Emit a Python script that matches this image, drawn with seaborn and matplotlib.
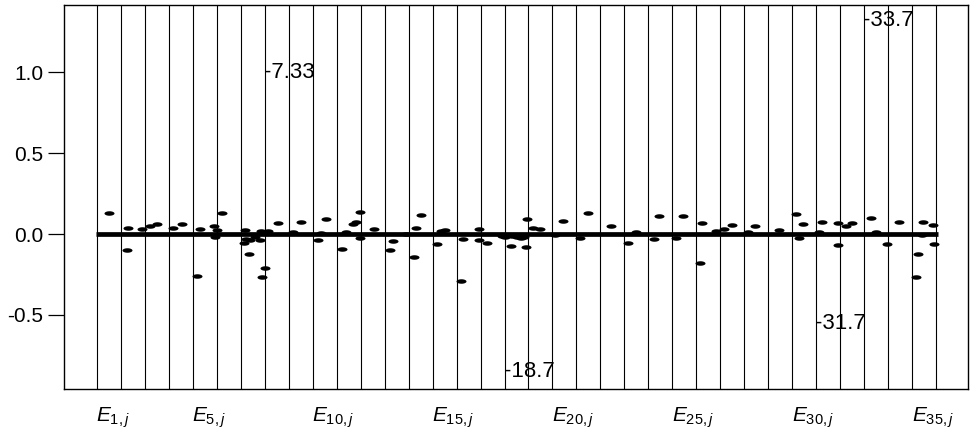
import numpy as np
import pandas as pd
import matplotlib
matplotlib.use("Agg")
import matplotlib.pyplot as plt
import matplotlib.transforms as mtransforms
from matplotlib.path import Path
import seaborn as sns

# ---------------- data ----------------
panels = list(range(1, 36))
label_panels = [1, 5, 10, 15, 20, 25, 30, 35]
tick_values = [-0.5, 0.0, 0.5, 1.0]
tick_labels = ["-0.5", "0.0", "0.5", "1.0"]

# individual elements: panel j, relative position inside the panel, value
pt_panel = [1,
            2, 2, 2,
            3, 3,
            4, 4,
            5, 5, 5, 5, 5,
            6,
            7, 7, 7, 7, 7, 7, 7, 7, 7,
            8, 8, 8,
            9, 9,
            10, 10, 10,
            11, 11, 11, 11, 11, 11,
            12,
            13, 13, 13,
            14, 14, 14,
            15, 15, 15,
            16, 16, 16, 16,
            17, 17,
            18, 18, 18, 18, 18, 18, 18, 18,
            19, 19,
            20, 20,
            21, 21,
            22,
            23, 23,
            24, 24,
            25, 25,
            26, 26, 26,
            27, 27,
            28, 28,
            29,
            30, 30, 30,
            31, 31, 31, 31,
            32, 32,
            33, 33, 33,
            34,
            35, 35, 35, 35, 35, 35]
pt_offset = [0.51,
             0.24, 0.30, 0.86,
             0.21, 0.51,
             0.18, 0.53,
             0.18, 0.29, 0.88, 0.99, 0.92,
             0.20,
             0.17, 0.12, 0.32, 0.79, 0.86, 0.89, 0.20, 0.40, 0.60,
             0.02, 0.14, 0.55,
             0.18, 0.53,
             0.22, 0.54, 0.35,
             0.24, 0.96, 0.82, 0.68, 0.40, 0.99,
             0.54,
             0.21, 0.35, 0.90,
             0.21, 0.32, 0.50,
             0.20, 0.36, 0.50,
             0.18, 0.26, 0.93, 0.93,
             0.26, 0.90,
             0.25, 0.95, 0.90, 0.02, 0.30, 0.50, 0.70, 0.82,
             0.18, 0.49,
             0.46, 0.10,
             0.47, 0.13,
             0.44,
             0.14, 0.49,
             0.25, 0.46,
             0.15, 0.46,
             0.22, 0.15, 0.82,
             0.17, 0.49,
             0.14, 0.46,
             0.46,
             0.15, 0.46, 0.30,
             0.13, 0.26, 0.93, 0.93,
             0.24, 0.51,
             0.28, 0.49, 0.97,
             0.46,
             0.26, 0.15, 0.47, 0.87, 0.92, 0.42]
pt_value = [0.128,
            -0.099, 0.035, 0.029,
            0.049, 0.060,
            0.035, 0.062,
            -0.260, 0.031, 0.051, 0.025, -0.020,
            0.132,
            0.025, -0.058, -0.125, -0.037, 0.020, -0.263, -0.030, -0.035, -0.020,
            -0.212, 0.020, 0.070,
            0.015, 0.076,
            -0.037, 0.090, 0.008,
            -0.091, 0.138, 0.076, 0.062, 0.010, -0.027,
            0.029,
            -0.099, -0.041, 0.000,
            -0.144, 0.039, 0.117,
            -0.062, 0.018, 0.025,
            -0.288, -0.033, 0.033, -0.037,
            -0.054, -0.010,
            -0.074, 0.090, -0.078, -0.020, -0.015, -0.020, -0.025, -0.020,
            0.039, 0.029,
            0.080, -0.006,
            0.132, -0.027,
            0.049,
            -0.058, 0.010,
            -0.033, 0.111,
            -0.027, 0.111,
            0.070, -0.177, 0.020,
            0.031, 0.056,
            0.015, 0.051,
            0.025,
            0.121, 0.062, -0.027,
            0.015, 0.072, 0.070, -0.066,
            0.051, 0.066,
            0.101, 0.012, -0.064,
            0.072,
            -0.125, -0.267, 0.076, 0.056, -0.064, -0.006]

# off-scale elements (value written as text)
off_panel = [8, 18, 31, 33]
off_text = ["-7.33", "-18.7", "-31.7", "-33.7"]
off_label_y = [1.0, -0.85, -0.55, 1.32]

# ---------------- style ----------------
sns.set_theme(style="white")
plt.rcParams["font.family"] = ["Liberation Sans", "DejaVu Sans"]
plt.rcParams["mathtext.fontset"] = "custom"
plt.rcParams["mathtext.rm"] = "Liberation Sans"
plt.rcParams["mathtext.it"] = "Liberation Sans:italic"
for k in ["text.color", "axes.labelcolor", "xtick.color", "ytick.color", "axes.edgecolor"]:
    plt.rcParams[k] = "black"

fig = plt.figure(figsize=(9.74, 4.38), dpi=100)
ax = fig.add_axes([64 / 974, 1 - 389 / 438, (968 - 64) / 974, (389 - 5) / 438])

xlo, xhi = -0.877, 36.835
ylo, yhi = -0.957, 1.414

# panel separators
for b in [p - 0.5 for p in panels] + [panels[-1] + 0.5]:
    ax.axvline(b, color="black", lw=0.8, zorder=1)

# dense band of near-zero elements
ax.hlines(0, panels[0] - 0.55, panels[-1] + 0.6, color="black", lw=3.4, zorder=2)

df = pd.DataFrame({"x": np.array(pt_panel) - 0.5 + np.array(pt_offset),
                   "y": pt_value})
theta = np.linspace(0, 2 * np.pi, 41)
ellipse = Path(np.column_stack([np.cos(theta), 0.45 * np.sin(theta)]))
sns.scatterplot(data=df, x="x", y="y", marker=ellipse, s=52, color="black",
                linewidth=0, ax=ax, zorder=3, legend=False)

for p, t, y in zip(off_panel, off_text, off_label_y):
    ax.text(p - 0.5 - 0.03, y, t, ha="left", va="center", fontsize=16, zorder=4)

ax.set_xlim(xlo, xhi)
ax.set_ylim(ylo, yhi)
ax.set_xlabel("")
ax.set_ylabel("")

ax.set_yticks(tick_values)
ax.set_yticklabels(tick_labels)
ax.tick_params(axis="y", direction="out", left=True, length=11.5, width=0.9,
               pad=3.5, labelsize=15)

ax.set_xticks(label_panels)
ax.set_xticklabels([f"$E_{{{k},j}}$" for k in label_panels])
ax.tick_params(axis="x", length=0, pad=12, labelsize=15, bottom=False)
shift = mtransforms.ScaledTranslation(-0.125, 0, fig.dpi_scale_trans)
for lab in ax.get_xticklabels():
    lab.set_ha("left")
    lab.set_transform(lab.get_transform() + shift)

for s in ax.spines.values():
    s.set_visible(True)
    s.set_color("black")
    s.set_linewidth(1.0)

fig.savefig("out.png", dpi=100, facecolor="white")
